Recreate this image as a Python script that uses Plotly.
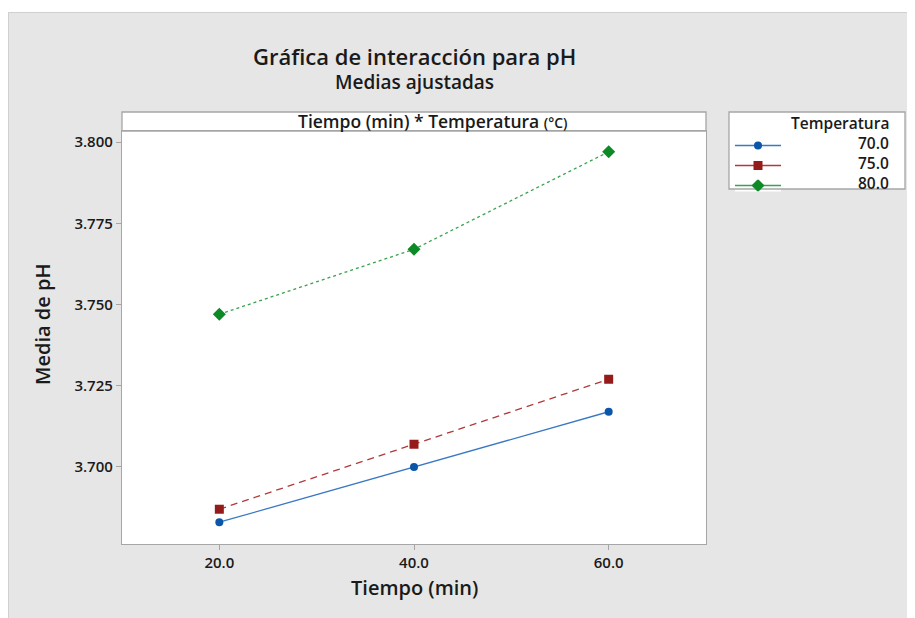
import plotly.graph_objects as go

# page body has an 8px margin: figure covers reference pixels 8..915 x 8..618
OX, OY = 8, 8
W, H = 915 - OX, 618 - OY

tiempo = [20, 40, 60]
temperaturas = ["70.0", "75.0", "80.0"]
ph_70 = [3.683, 3.700, 3.717]
ph_75 = [3.687, 3.707, 3.727]
ph_80 = [3.747, 3.767, 3.797]
series = [ph_70, ph_75, ph_80]

x_ticks = [20, 40, 60]
x_ticklabels = ["20.0", "40.0", "60.0"]
y_ticks = [3.700, 3.725, 3.750, 3.775, 3.800]
y_ticklabels = ["3.700", "3.725", "3.750", "3.775", "3.800"]

colors = ["#0a56a8", "#951a1a", "#0d8a26"]
line_colors = ["#3a78c4", "#b03a3a", "#3aa24e"]
symbols = ["circle", "square", "diamond"]
msizes = [8, 9, 10]
dashes = ["solid", "7px,5px", "3px,3px"]

FONT = "Open Sans"
TXT = "#1a1a1a"
GRID = "#a6a6a6"


def px_x(p):
    return (p - OX) / W


def px_y(p):
    return 1 - (p - OY) / H


# plot area in reference pixels
PL, PR, PT, PB = 122, 706, 131, 544

fig = go.Figure()
for i in range(3):
    fig.add_trace(go.Scatter(
        x=tiempo, y=series[i], mode="lines+markers",
        line=dict(color=line_colors[i], width=1.3, dash=dashes[i]),
        marker=dict(symbol=symbols[i], size=msizes[i], color=colors[i]),
        showlegend=False, xaxis="x", yaxis="y"))

# legend symbols on small hidden axes
for i in range(3):
    fig.add_trace(go.Scatter(
        x=[0.0, 0.5, 1.0], y=[0, 0, 0], mode="lines",
        line=dict(color=line_colors[i], width=1.3),
        showlegend=False, hoverinfo="skip", xaxis="x2", yaxis=f"y{3+i}"))
    fig.add_trace(go.Scatter(
        x=[0.5], y=[0], mode="markers",
        marker=dict(symbol=symbols[i], size=msizes[i], color=colors[i]),
        showlegend=False, hoverinfo="skip", xaxis="x2", yaxis=f"y{3+i}"))

shapes = [
    # white strip above the gray panel
    dict(type="rect", xref="paper", yref="paper", x0=0, x1=1, y0=px_y(12), y1=1,
         fillcolor="white", line=dict(width=0), layer="below"),
    dict(type="line", xref="paper", yref="paper", x0=0, x1=1, y0=px_y(12.5), y1=px_y(12.5),
         line=dict(color="#d0d0d0", width=1), layer="below"),
    dict(type="line", xref="paper", yref="paper", x0=px_x(8.5), x1=px_x(8.5), y0=0, y1=px_y(12),
         line=dict(color="#d0d0d0", width=1), layer="below"),
    # header strip
    dict(type="rect", xref="paper", yref="paper", x0=px_x(PL), x1=px_x(PR),
         y0=px_y(PT), y1=px_y(112), fillcolor="white", line=dict(color=GRID, width=1.3),
         layer="below"),
    # legend box
    dict(type="rect", xref="paper", yref="paper", x0=px_x(729), x1=px_x(905),
         y0=px_y(189), y1=px_y(112), fillcolor="white", line=dict(color=GRID, width=1.3),
         layer="below"),
]

annotations = [
    dict(text="Gráfica de interacción para pH", x=px_x(414), y=px_y(56), xref="paper", yref="paper",
         showarrow=False, font=dict(family=FONT, size=22, color=TXT, weight=600),
         xanchor="center", yanchor="middle"),
    dict(text="Medias ajustadas", x=px_x(414), y=px_y(82), xref="paper", yref="paper",
         showarrow=False, font=dict(family=FONT, size=19, color=TXT, weight=600),
         xanchor="center", yanchor="middle"),
    dict(text="Tiempo (min) * Temperatura <span style='font-size:14px'>(°C)</span>",
         x=px_x(433), y=px_y(121), xref="paper", yref="paper",
         showarrow=False, font=dict(family=FONT, size=17.5, color=TXT, weight=600),
         xanchor="center", yanchor="middle"),
    dict(text="Tiempo (min)", x=px_x(414), y=px_y(587), xref="paper", yref="paper",
         showarrow=False, font=dict(family=FONT, size=20, color=TXT, weight=600),
         xanchor="center", yanchor="middle"),
    dict(text="Media de pH", x=px_x(42), y=px_y(325), xref="paper", yref="paper", textangle=-90,
         showarrow=False, font=dict(family=FONT, size=20, color=TXT, weight=600),
         xanchor="center", yanchor="middle"),
    dict(text="Temperatura", x=px_x(891), y=px_y(123), xref="paper", yref="paper",
         showarrow=False, font=dict(family=FONT, size=15.5, color=TXT, weight=600),
         xanchor="right", yanchor="middle"),
]
for i, t in enumerate(temperaturas):
    annotations.append(dict(text=t, x=px_x(891), y=px_y(143 + 20 * i), xref="paper", yref="paper",
                            showarrow=False, font=dict(family=FONT, size=15.5, color=TXT, weight=600),
                            xanchor="right", yanchor="middle"))

layout_axes = {}
for i in range(3):
    cy = 145.5 + 20 * i
    layout_axes[f"yaxis{3+i}"] = dict(domain=[px_y(cy + 6), px_y(cy - 6)], range=[-1, 1],
                                      visible=False, anchor="x2", fixedrange=True)

tickfont = dict(family=FONT, size=15, color=TXT, weight=600)

fig.update_layout(
    width=W, height=H,
    margin=dict(l=0, r=0, t=0, b=0),
    paper_bgcolor="#e6e6e6",
    plot_bgcolor="white",
    font=dict(family=FONT, color=TXT),
    xaxis=dict(domain=[px_x(PL), px_x(PR)], range=[10, 70], tickvals=x_ticks, ticktext=x_ticklabels,
               showgrid=False, zeroline=False, showline=True, linecolor=GRID, linewidth=1.3, mirror=True,
               ticks="outside", ticklen=5, tickcolor=GRID, tickfont=tickfont,
               anchor="y", automargin=False),
    yaxis=dict(domain=[px_y(PB), px_y(PT)], range=[3.6763, 3.8034], tickvals=y_ticks, ticktext=y_ticklabels,
               showgrid=False, zeroline=False, showline=True, linecolor=GRID, linewidth=1.3, mirror=True,
               ticks="outside", ticklen=5, tickcolor=GRID, tickfont=tickfont,
               anchor="x", automargin=False),
    xaxis2=dict(domain=[px_x(735), px_x(781)], range=[0, 1], visible=False, fixedrange=True, anchor="y3"),
    shapes=shapes,
    annotations=annotations,
    hovermode=False,
    **layout_axes,
)

fig.write_html("out.html")
